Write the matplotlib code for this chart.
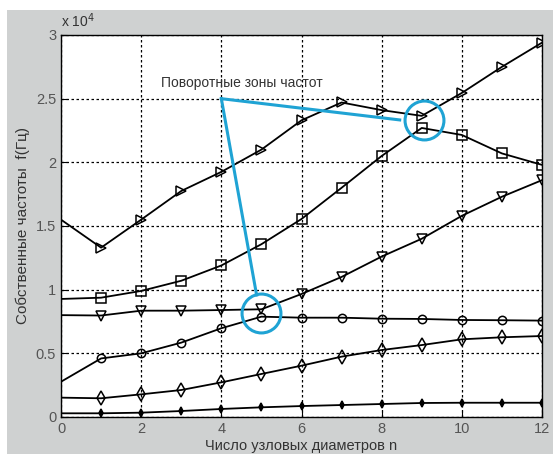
import numpy as np
import matplotlib.pyplot as plt
from matplotlib.ticker import FixedLocator

plt.rcParams['font.family'] = ['Liberation Sans', 'DejaVu Sans']

n = np.arange(13)

# собственные частоты, x 1e4 Гц
f_right = [1.55, 1.33, 1.55, 1.775, 1.925, 2.10, 2.33, 2.47, 2.41, 2.365, 2.545, 2.75, 2.94]
f_square = [0.927, 0.937, 0.99, 1.07, 1.19, 1.357, 1.555, 1.80, 2.05, 2.27, 2.215, 2.07, 1.98]
f_down = [0.80, 0.797, 0.835, 0.835, 0.84, 0.846, 0.966, 1.10, 1.26, 1.40, 1.58, 1.73, 1.86]
f_circle = [0.277, 0.46, 0.50, 0.584, 0.697, 0.788, 0.78, 0.78, 0.772, 0.77, 0.762, 0.76, 0.757]
f_diamond = [0.152, 0.147, 0.178, 0.212, 0.272, 0.338, 0.403, 0.474, 0.526, 0.565, 0.61, 0.626, 0.636]
f_dot = [0.029, 0.029, 0.034, 0.047, 0.063, 0.076, 0.086, 0.094, 0.102, 0.11, 0.112, 0.112, 0.112]

series = [
    (f_right, '>', 'none', 7),
    (f_square, 's', 'none', 6.5),
    (f_down, 'v', 'none', 7),
    (f_circle, 'o', 'none', 6),
    (f_diamond, 'd', 'none', 7),
    (f_dot, 'd', 'black', 4),
]

label_note = 'Поворотные зоны частот'
note_xy = (2.49, 2.62)
arrow_root = (4.0, 2.5)
arrow_ends = [(8.45, 2.333), (4.88, 0.958)]
zones = [(9.05, 2.333), (5.0, 0.82)]

blue = '#1fa3d4'
grey_bg = '#cfd1d1'

fig = plt.figure(figsize=(5.53, 4.54), dpi=100, facecolor='white')
# серая подложка окна
fig.patches.append(plt.Rectangle((7 / 553, 0), 1, 1 - 10 / 454, transform=fig.transFigure,
                                 facecolor=grey_bg, edgecolor='none', zorder=-10))
ax = fig.add_axes([61 / 553, 37 / 454, 481 / 553, 382 / 454])
ax.set_facecolor('white')

for vals, m, fc, ms in series:
    ax.plot(n, np.array(vals) * 1e4, color='black', lw=1.3, marker=m, markersize=ms,
            markerfacecolor=fc, markeredgecolor='black', markeredgewidth=1.1,
            markevery=slice(1, None), zorder=3)

# поворотные зоны
for x1, y1 in arrow_ends:
    ax.plot([arrow_root[0], x1], [arrow_root[1] * 1e4, y1 * 1e4], color=blue, lw=2.2, zorder=4)
for cx, cy in zones:
    ax.plot([cx], [cy * 1e4], marker='o', markersize=28, markerfacecolor='none',
            markeredgecolor=blue, markeredgewidth=2.2, zorder=4)
ax.text(note_xy[0], note_xy[1] * 1e4, label_note, fontsize=10, color='#333333',
        ha='left', va='center', zorder=5)

ax.set_xlim(0, 12)
ax.set_ylim(0, 3e4)
ax.xaxis.set_major_locator(FixedLocator(range(0, 13, 2)))
ax.yaxis.set_major_locator(FixedLocator(np.arange(0, 3.01e4, 0.5e4)))
ax.set_yticklabels(['0', '0.5', '1', '1.5', '2', '2.5', '3'])
ax.grid(True, color='black', linestyle=(0, (2, 2)), linewidth=0.9)
ax.tick_params(direction='in', length=4, labelsize=10.5, labelcolor='#555555', color='black')
ax.text(0.0, 1.012, r'x 10$^4$', transform=ax.transAxes, fontsize=10, color='#333333',
        ha='left', va='bottom')
for s in ax.spines.values():
    s.set_color('black')
    s.set_linewidth(1.0)

ax.set_xlabel('Число узловых диаметров n', fontsize=10.5, color='#333333', labelpad=2)
ax.set_ylabel('Собственные частоты  f(Гц)', fontsize=11, color='#333333', labelpad=4)

fig.savefig('out.png', dpi=100, facecolor=fig.get_facecolor())
